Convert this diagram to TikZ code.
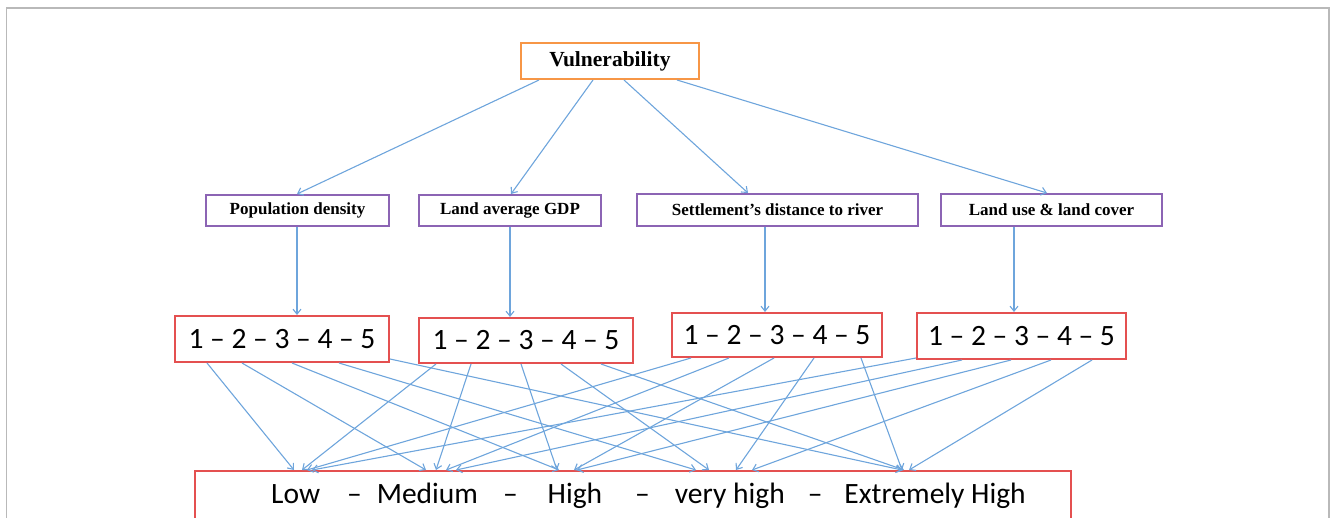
\documentclass[tikz,border=0pt]{standalone}
\usepackage{fontspec}
\setmainfont{Liberation Serif}
\newfontfamily\calibri{Carlito}
\usetikzlibrary{arrows.meta}
\definecolor{vorange}{RGB}{247,150,70}
\definecolor{vpurple}{RGB}{140,100,180}
\definecolor{vred}{RGB}{228,80,80}
\definecolor{vblue}{RGB}{110,165,220}
\definecolor{vframe}{RGB}{185,185,185}
\tikzset{
  topbox/.style={draw=vorange, line width=2pt, inner sep=0pt, minimum width=178pt, minimum height=36pt, font=\fontsize{21.5}{24}\selectfont\bfseries},
  factbox/.style={draw=vpurple, line width=2pt, inner sep=0pt, minimum height=31pt, font=\fontsize{17}{20}\selectfont\bfseries},
  scalebox/.style={draw=vred, line width=2pt, inner sep=0pt, font=\calibri\fontsize{29.5}{32}\selectfont},
  arr/.style={draw=vblue, line width=1.1pt, -{Straight Barb[length=5pt,width=8pt]}},
}
\begin{document}
\begin{tikzpicture}[x=1pt,y=-1pt]
\useasboundingbox (0,0) rectangle (1330,517);
\clip (0,0) rectangle (1330,517);
% frame
\draw[vframe, line width=1.3pt] (6.5,530) -- (6.5,8) -- (1329,8) -- (1329,530);

% nodes
\node[topbox] (v) at (610,61) {Vulnerability};
\node[factbox, minimum width=183pt] (pd) at (297.5,210.5) {Population density};
\node[factbox, minimum width=182pt] (gdp) at (510,210.5) {Land average GDP};
\node[factbox, minimum width=281pt, minimum height=32pt] (set) at (777.5,210) {Settlement’s distance to river};
\node[factbox, minimum width=221pt, minimum height=32pt] (luc) at (1051.5,210) {Land use \& land cover};

\node[scalebox, minimum width=214pt, minimum height=46pt] (r1) at (282,339) {1 – 2 – 3 – 4 – 5};
\node[scalebox, minimum width=214pt, minimum height=45pt] (r2) at (526,340.5) {1 – 2 – 3 – 4 – 5};
\node[scalebox, minimum width=210pt, minimum height=44pt] (r3) at (777,335) {1 – 2 – 3 – 4 – 5};
\node[scalebox, minimum width=209pt, minimum height=46pt] (r4) at (1021.5,336) {1 – 2 – 3 – 4 – 5};

\node[scalebox, minimum width=876pt, minimum height=56pt] (bot) at (633,499) {};
\node[anchor=base west, inner sep=0pt, font=\calibri\fontsize{29.5}{32}\selectfont] (bottext) at (271,503)
  {Low\hspace{27pt}–\hspace{15pt}Medium\hspace{25pt}–\hspace{30pt}High\hspace{33pt}–\hspace{25pt}very high\hspace{23pt}–\hspace{22pt}Extremely High};

% Vulnerability to factors
\draw[arr] ([xshift=19pt]v.south west) -- ([xshift=92pt]pd.north west);
\draw[arr] ([xshift=73pt]v.south west) -- ([xshift=93pt]gdp.north west);
\draw[arr] ([xshift=104pt]v.south west) -- ([xshift=112pt]set.north west);
\draw[arr] ([xshift=157pt]v.south west) -- ([xshift=107pt]luc.north west);

% factors to scales
\draw[arr] ([xshift=92pt]pd.south west) -- ([xshift=123pt]r1.north west);
\draw[arr] ([xshift=92pt]gdp.south west) -- ([xshift=92pt]r2.north west);
\draw[arr] ([xshift=129pt]set.south west) -- ([xshift=94pt]r3.north west);
\draw[arr] ([xshift=74pt]luc.south west) -- ([xshift=98pt]r4.north west);

% scales to classes
% box 1
\draw[arr] ([xshift=33pt]r1.south west) -- ([xshift=100pt]bot.north west);
\draw[arr] ([xshift=68pt]r1.south west) -- ([xshift=232pt]bot.north west);
\draw[arr] ([xshift=118pt]r1.south west) -- ([xshift=365pt]bot.north west);
\draw[arr] ([xshift=165pt]r1.south west) -- ([xshift=502pt]bot.north west);
\draw[arr] ([yshift=4pt]r1.south east) -- ([xshift=708pt]bot.north west);
% box 2
\draw[arr] ([xshift=18pt]r2.south west) -- ([xshift=108pt]bot.north west);
\draw[arr] ([xshift=53pt]r2.south west) -- ([xshift=242pt]bot.north west);
\draw[arr] ([xshift=103pt]r2.south west) -- ([xshift=363pt]bot.north west);
\draw[arr] ([xshift=143pt]r2.south west) -- ([xshift=515pt]bot.north west);
\draw[arr] ([xshift=183pt]r2.south west) -- ([xshift=710pt]bot.north west);
% box 3
\draw[arr] ([xshift=20pt]r3.south west) -- ([xshift=113pt]bot.north west);
\draw[arr] ([xshift=58pt]r3.south west) -- ([xshift=252pt]bot.north west);
\draw[arr] ([xshift=103pt]r3.south west) -- ([xshift=380pt]bot.north west);
\draw[arr] ([xshift=143pt]r3.south west) -- ([xshift=542pt]bot.north west);
\draw[arr] ([xshift=190pt]r3.south west) -- ([xshift=708pt]bot.north west);
% box 4
\draw[arr] ([yshift=2pt]r4.south west) -- ([xshift=118pt]bot.north west);
\draw[arr] ([xshift=46pt]r4.south west) -- ([xshift=262pt]bot.north west);
\draw[arr] ([xshift=95pt]r4.south west) -- ([xshift=383pt]bot.north west);
\draw[arr] ([xshift=135pt]r4.south west) -- ([xshift=558pt]bot.north west);
\draw[arr] ([xshift=176pt]r4.south west) -- ([xshift=715pt]bot.north west);
\end{tikzpicture}
\end{document}
